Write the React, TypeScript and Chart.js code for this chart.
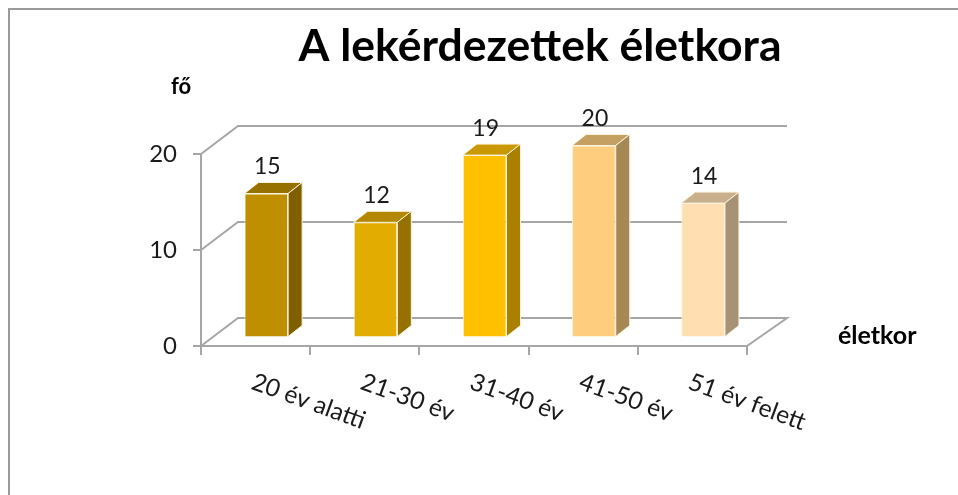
import React, { useEffect, useRef } from "react";
import { Chart, registerables } from "chart.js";

Chart.register(...registerables);

const categories = ["20 év alatti", "21-30 év", "31-40 év", "41-50 év", "51 év felett"];
const values = [15, 12, 19, 20, 14];
const yTicks = [0, 10, 20];
const titleText = "A lekérdezettek életkora";
const yAxisLabel = "fő";
const xAxisLabel = "életkor";

const frontColors = ["#BF8F00", "#E2AC00", "#FFC000", "#FFCD7E", "#FFDFB2"];
const topColors = ["#977100", "#B38800", "#CA9800", "#C4A062", "#C9AF8B"];
const sideColors = ["#7F5F00", "#957200", "#A98000", "#A58855", "#A89276"];

const FONT = "Lato, Carlito, sans-serif";
const GRID = "#A6A6A6";
const EDGE = "#FBF3DC";

const barsShift = { x: 10.7, y: -8.5 };
const barDepth = { x: 14, y: -11 };

const threeD = {
  id: "threeD",
  beforeDatasetsDraw(chart: any) {
    const { ctx, chartArea, scales } = chart;
    const { left, right } = chartArea;
    const y = scales.y;
    ctx.save();
    ctx.strokeStyle = GRID;
    ctx.lineWidth = 2;
    for (const v of yTicks) {
      const py = y.getPixelForValue(v);
      ctx.beginPath();
      ctx.moveTo(left, py);
      ctx.lineTo(left + 37, py - 28);
      ctx.lineTo(right + 40, py - 28);
      if (v === 0) ctx.lineTo(right, py);
      ctx.stroke();
    }
    ctx.restore();
    ctx.save();
    ctx.translate(barsShift.x, barsShift.y);
  },
  afterDatasetsDraw(chart: any) {
    const { ctx } = chart;
    ctx.restore();
    const meta = chart.getDatasetMeta(0);
    ctx.save();
    ctx.lineWidth = 1;
    ctx.strokeStyle = EDGE;
    ctx.lineJoin = "round";
    meta.data.forEach((bar: any, i: number) => {
      const l = bar.x - bar.width / 2 + barsShift.x;
      const r = bar.x + bar.width / 2 + barsShift.x;
      const t = bar.y + barsShift.y;
      const b = bar.base + barsShift.y;
      ctx.fillStyle = topColors[i];
      ctx.beginPath();
      ctx.moveTo(l, t);
      ctx.lineTo(l + barDepth.x, t + barDepth.y);
      ctx.lineTo(r + barDepth.x, t + barDepth.y);
      ctx.lineTo(r, t);
      ctx.closePath();
      ctx.fill();
      ctx.stroke();
      ctx.fillStyle = sideColors[i];
      ctx.beginPath();
      ctx.moveTo(r, t);
      ctx.lineTo(r + barDepth.x, t + barDepth.y);
      ctx.lineTo(r + barDepth.x, b + barDepth.y);
      ctx.lineTo(r, b);
      ctx.closePath();
      ctx.fill();
      ctx.stroke();
      ctx.fillStyle = "#1a1a1a";
      ctx.font = `23px ${FONT}`;
      ctx.textAlign = "center";
      ctx.textBaseline = "middle";
      ctx.fillText(String(values[i]), (l + r) / 2 + 1, t - 27);
    });
    ctx.restore();
  },
  afterDraw(chart: any) {
    const { ctx, scales } = chart;
    ctx.save();
    ctx.fillStyle = "#000";
    ctx.textBaseline = "middle";
    ctx.textAlign = "center";
    ctx.font = `bold 44.5px ${FONT}`;
    ctx.fillText(titleText, 540, 47);
    ctx.font = `bold 22px ${FONT}`;
    ctx.fillText(yAxisLabel, 181, 87);
    ctx.textAlign = "left";
    ctx.font = `bold 25px ${FONT}`;
    ctx.fillText(xAxisLabel, 838, 336);
    ctx.fillStyle = "#1a1a1a";
    ctx.font = `24.5px ${FONT}`;
    categories.forEach((c, i) => {
      ctx.save();
      ctx.translate(scales.x.getPixelForValue(i) - 3, 381);
      ctx.rotate((20 * Math.PI) / 180);
      ctx.fillText(c, 0, 0);
      ctx.restore();
    });
    ctx.restore();
  },
};

export default function App() {
  const ref = useRef<HTMLCanvasElement>(null);
  useEffect(() => {
    const chart = new Chart(ref.current!, {
      type: "bar",
      data: {
        labels: categories,
        datasets: [
          {
            data: values,
            backgroundColor: frontColors,
            borderColor: EDGE,
            borderWidth: 1,
            barPercentage: 0.4,
            categoryPercentage: 1,
            clip: false,
          } as any,
        ],
      },
      options: {
        animation: false,
        responsive: false,
        devicePixelRatio: 1,
        layout: { padding: { left: 101, right: 211, top: 154, bottom: 139 } },
        plugins: { legend: { display: false }, title: { display: false }, tooltip: { enabled: false } },
        scales: {
          x: {
            afterFit: (s: any) => {
              s.height = 10;
            },
            grid: { drawOnChartArea: false, color: GRID, lineWidth: 2, tickLength: 9 },
            border: { color: GRID, width: 2 },
            ticks: { display: false },
          },
          y: {
            min: 0,
            max: 20,
            afterFit: (s: any) => {
              s.width = 100;
            },
            grid: { drawOnChartArea: false, color: GRID, lineWidth: 2, tickLength: 8 },
            border: { color: GRID, width: 2 },
            ticks: {
              stepSize: 10,
              padding: 16,
              color: "#1a1a1a",
              font: { family: FONT, size: 24 },
            },
          },
        },
      },
      plugins: [threeD],
    } as any);
    return () => chart.destroy();
  }, []);
  return (
    <div style={{ position: "absolute", left: 0, top: 0, width: 958, height: 495, background: "#fff", overflow: "hidden" }}>
      <div
        style={{
          position: "absolute",
          left: 8,
          top: 8,
          right: 0,
          bottom: 0,
          borderLeft: "2px solid #9a9a9a",
          borderTop: "2px solid #9a9a9a",
        }}
      />
      <canvas ref={ref} width={958} height={495} style={{ position: "absolute", left: 0, top: 0, width: 958, height: 495 }} />
    </div>
  );
}
